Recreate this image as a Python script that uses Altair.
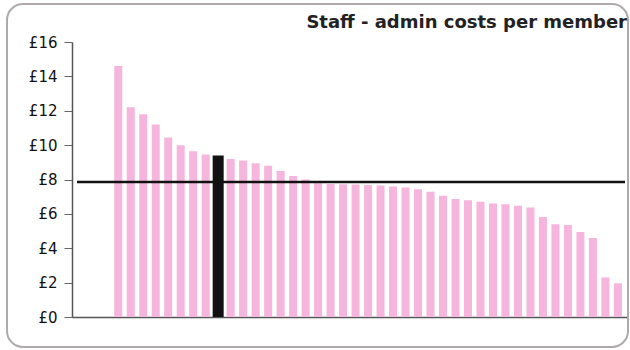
import altair as alt
import pandas as pd

# Admin staff cost per member for each organisation, sorted high to low
costs = [14.6, 12.2, 11.8, 11.2, 10.45, 10.0, 9.65, 9.45, 9.4, 9.2,
         9.1, 8.95, 8.8, 8.5, 8.2, 8.0, 7.78, 7.74, 7.72, 7.71,
         7.68, 7.65, 7.6, 7.53, 7.44, 7.29, 7.05, 6.86, 6.79, 6.71,
         6.61, 6.56, 6.47, 6.37, 5.82, 5.39, 5.35, 4.95, 4.6, 2.3, 1.96]
highlight_rank = 8          # the organisation shown in black
average_cost = [7.85]       # benchmark line
y_ticks = [0, 2, 4, 6, 8, 10, 12, 14, 16]
title_text = "Staff - admin costs per member"

df = pd.DataFrame({
    "rank": list(range(len(costs))),
    "cost": costs,
    "own": [i == highlight_rank for i in range(len(costs))],
})
avg_df = pd.DataFrame({"avg": average_cost})

W, H = 556, 275

x_scale = alt.Scale(domain=[-3.302, 40.409], nice=False, zero=False)
y_scale = alt.Scale(domain=[0, 16], nice=False)

x_axis = alt.Axis(labels=False, ticks=False, grid=False, title=None,
                  domainColor="#555", domainWidth=1.5)
y_axis = alt.Axis(values=y_ticks, labelExpr="'£' + datum.value",
                  grid=False, title=None, tickSize=8, labelPadding=7,
                  labelOverlap=False,
                  domainColor="#555", tickColor="#666", domainWidth=1.5,
                  labelFont="DejaVu Sans", labelFontSize=15,
                  labelColor="#111")

x_enc = alt.X("rank:Q", scale=x_scale, axis=x_axis)
y_enc = alt.Y("cost:Q", scale=y_scale, axis=y_axis)

base = alt.Chart(df)

others = base.transform_filter("!datum.own").mark_bar(
    color="#f5b5dc", size=8
).encode(x=x_enc, y=y_enc)

own = base.transform_filter("datum.own").mark_bar(
    color="#111111", size=11
).encode(x=x_enc, y=y_enc)

avg_line = alt.Chart(avg_df).mark_rule(color="#111111", strokeWidth=2.5).encode(
    y=alt.Y("avg:Q", scale=y_scale, axis=y_axis),
    x=alt.value(5),
    x2=alt.value(553),
)

# rounded panel border around the whole chart
frame = alt.Chart(alt.Data(values=[{}])).mark_rect(
    fill=None, stroke="#aeaaae", strokeWidth=2, cornerRadius=16
).encode(
    x=alt.value(-65), x2=alt.value(556),
    y=alt.value(-38), y2=alt.value(305),
)

heading = alt.Chart(alt.Data(values=[{}])).mark_text(
    align="right", baseline="alphabetic", font="DejaVu Sans",
    fontSize=18, fontWeight="bold", color="#222222"
).encode(
    x=alt.value(555), y=alt.value(-14), text=alt.value(title_text)
)

chart = alt.layer(frame, others, own, avg_line, heading).properties(
    width=W, height=H,
    view=alt.ViewBackground(stroke="transparent", strokeWidth=0),
    autosize=alt.AutoSizeParams(type="none"),
    padding={"left": 72, "top": 42, "right": 2, "bottom": 33},
).configure_view(strokeWidth=0, stroke="transparent").configure(background="white")

chart.save("out.html", embed_options={"renderer": "svg", "actions": False})
